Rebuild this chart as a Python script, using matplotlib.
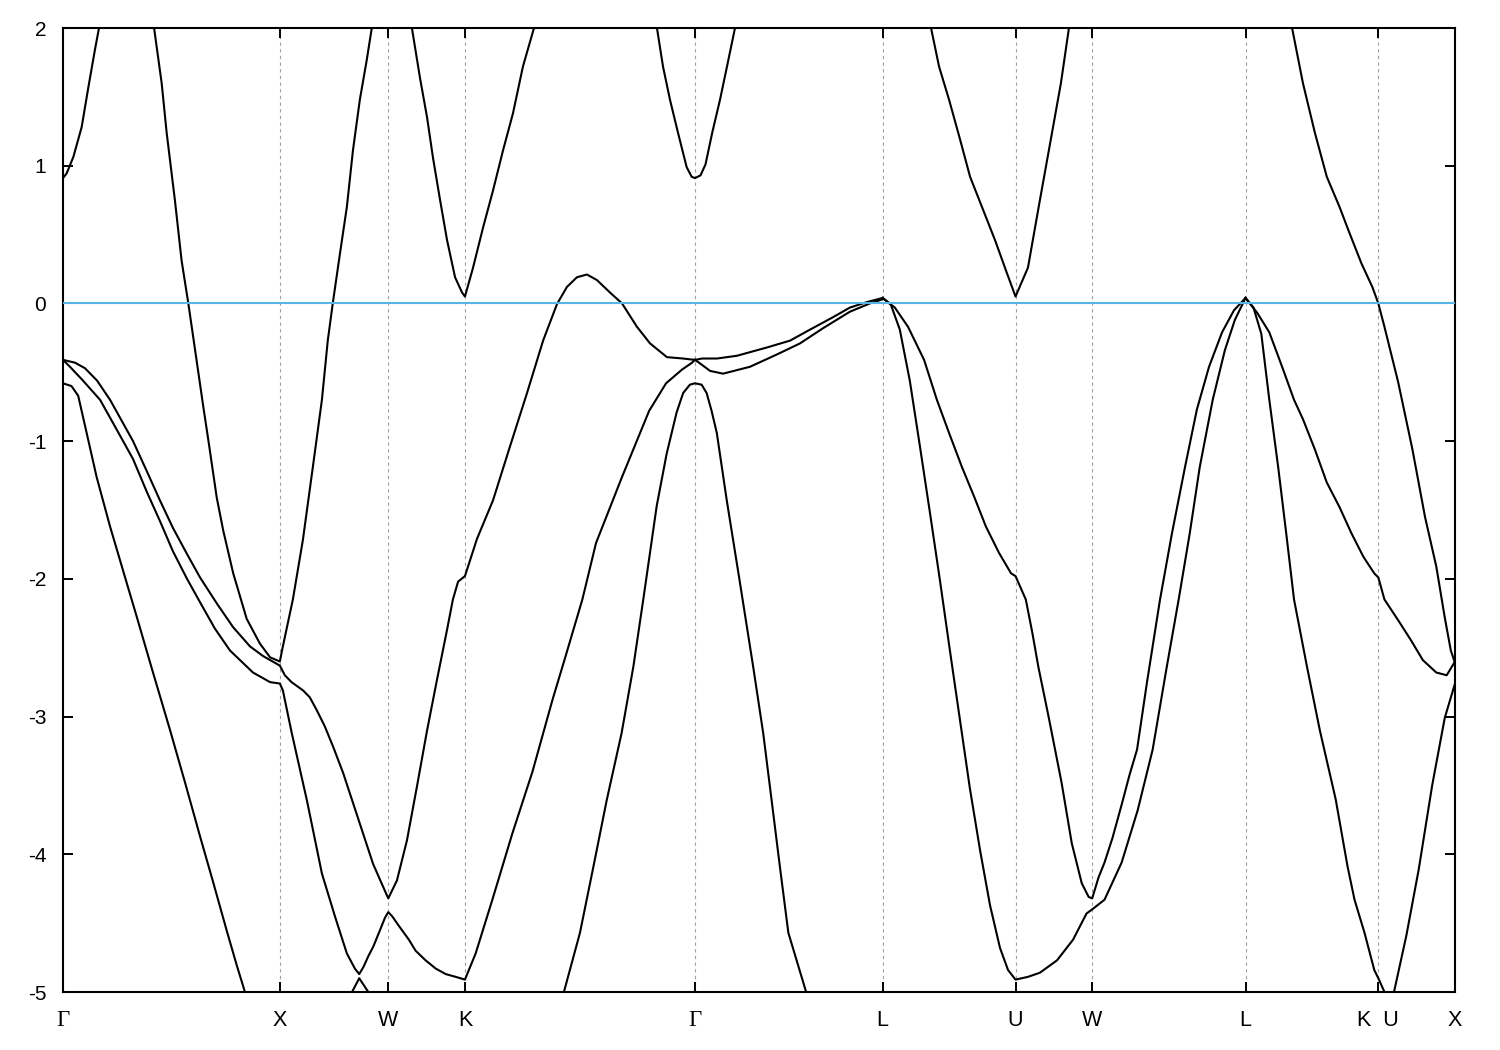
import matplotlib.pyplot as plt
import matplotlib as mpl

mpl.rcParams['axes.unicode_minus'] = False
mpl.rcParams['font.family'] = ['Liberation Sans', 'DejaVu Sans']

# high-symmetry points along the fcc path (units of 2pi/a)
tick_pos = [0.0, 1.0, 1.5, 1.8536, 2.9142, 3.7802, 4.3926, 4.7462, 5.4533, 6.0657, 6.4193]
tick_lab = ['Γ', 'X', 'W', 'K', 'Γ', 'L', 'U', 'W', 'L', 'K  U', 'X']

# --- bands (k, E in eV) ---
# conduction band rising from Gamma (left edge)
c_gamma0_k = [0.0, 0.017, 0.048, 0.086, 0.117, 0.147, 0.166, 0.18]
c_gamma0_e = [0.91, 0.945, 1.065, 1.28, 1.57, 1.84, 2.0, 2.12]

# steep band coming down to X and going back up
c_x_k = [0.401, 0.420, 0.455, 0.478, 0.516, 0.547, 0.578, 0.601, 0.624, 0.647, 0.670,
         0.709, 0.739, 0.785, 0.847, 0.908, 0.955, 1.0, 1.014, 1.060, 1.106, 1.152,
         1.194, 1.221, 1.244, 1.277, 1.309, 1.337, 1.369, 1.401, 1.424, 1.443]
c_x_e = [2.17, 2.0, 1.60, 1.24, 0.75, 0.31, 0.0, -0.25, -0.50, -0.75, -0.99,
         -1.41, -1.65, -1.96, -2.29, -2.47, -2.57, -2.60, -2.49, -2.15, -1.72, -1.19,
         -0.70, -0.27, 0.0, 0.36, 0.70, 1.11, 1.48, 1.77, 2.0, 2.2]

# upper valence pair branch: G -> X -> W -> K -> hump -> G
v_up_k = [0.0, 0.055, 0.101, 0.157, 0.217, 0.263, 0.323, 0.387, 0.447, 0.507, 0.572,
          0.632, 0.710, 0.784, 0.862, 0.922, 1.0, 1.023, 1.054, 1.107, 1.138, 1.169,
          1.207, 1.246, 1.292, 1.338, 1.384, 1.430, 1.469, 1.5, 1.540, 1.586, 1.632,
          1.679, 1.725, 1.771, 1.798, 1.822, 1.8536, 1.909, 1.983, 2.061, 2.140, 2.214,
          2.278, 2.324, 2.370, 2.416, 2.462, 2.522, 2.578, 2.647, 2.707, 2.785, 2.859, 2.9142]
v_up_e = [-0.41, -0.43, -0.47, -0.56, -0.70, -0.83, -1.00, -1.22, -1.43, -1.63, -1.82,
          -1.99, -2.18, -2.35, -2.49, -2.56, -2.63, -2.70, -2.75, -2.81, -2.86, -2.95,
          -3.07, -3.22, -3.41, -3.63, -3.85, -4.07, -4.21, -4.32, -4.19, -3.90, -3.51,
          -3.10, -2.73, -2.37, -2.15, -2.02, -1.98, -1.71, -1.43, -1.04, -0.65, -0.27,
          -0.005, 0.12, 0.19, 0.21, 0.17, 0.08, 0.0, -0.17, -0.29, -0.39, -0.40, -0.41]

# lower valence pair branch: G -> X -> W -> K -> G
v_lo_k = [0.0, 0.032, 0.092, 0.171, 0.249, 0.323, 0.387, 0.447, 0.507, 0.572, 0.632,
          0.700, 0.770, 0.876, 0.955, 1.0, 1.014, 1.055, 1.125, 1.194, 1.254, 1.309, 1.346,
          1.366, 1.385, 1.408, 1.431, 1.462, 1.485, 1.5, 1.518, 1.549, 1.595, 1.626,
          1.672, 1.719, 1.765, 1.811, 1.8536, 1.903, 1.980, 2.072, 2.165, 2.257, 2.318,
          2.395, 2.458, 2.578, 2.703, 2.781, 2.855, 2.901, 2.9142]
v_lo_e = [-0.41, -0.46, -0.56, -0.70, -0.92, -1.13, -1.37, -1.58, -1.80, -2.00, -2.17,
          -2.36, -2.52, -2.68, -2.75, -2.76, -2.81, -3.12, -3.61, -4.14, -4.45, -4.72, -4.83,
          -4.87, -4.82, -4.74, -4.67, -4.55, -4.46, -4.42, -4.45, -4.52, -4.62, -4.70,
          -4.77, -4.83, -4.87, -4.89, -4.91, -4.72, -4.33, -3.85, -3.40, -2.88, -2.56,
          -2.15, -1.74, -1.26, -0.78, -0.58, -0.48, -0.43, -0.41]

# split-off like band falling from Gamma
v_so_k = [0.0, 0.039, 0.070, 0.109, 0.155, 0.217, 0.277, 0.341, 0.415, 0.494, 0.563,
          0.632, 0.692, 0.756, 0.802, 0.839, 0.862]
v_so_e = [-0.58, -0.60, -0.67, -0.94, -1.26, -1.62, -1.94, -2.28, -2.68, -3.10, -3.48,
          -3.87, -4.20, -4.56, -4.81, -5.0, -5.13]

# little tip poking up from below between X and W
v_tip_k = [1.320, 1.333, 1.366, 1.408, 1.420]
v_tip_e = [-5.07, -5.0, -4.90, -5.0, -5.07]

# conduction minimum at K
c_k_k = [1.59, 1.609, 1.646, 1.679, 1.706, 1.739, 1.771, 1.808, 1.840, 1.8536,
         1.891, 1.937, 1.983, 2.029, 2.075, 2.121, 2.172, 2.19]
c_k_e = [2.15, 2.0, 1.64, 1.35, 1.06, 0.75, 0.46, 0.19, 0.08, 0.05,
         0.26, 0.55, 0.82, 1.11, 1.38, 1.72, 2.0, 2.1]

# conduction minimum at Gamma (middle)
c_gamma_k = [2.73, 2.739, 2.767, 2.799, 2.836, 2.876, 2.899, 2.9142, 2.940, 2.963,
             2.994, 3.030, 3.062, 3.099, 3.11]
c_gamma_e = [2.07, 2.0, 1.72, 1.48, 1.24, 0.99, 0.92, 0.91, 0.93, 1.01,
             1.24, 1.48, 1.72, 2.0, 2.08]

# valence band peaking at Gamma (-0.58)
v_gpk_k = [2.297, 2.310, 2.384, 2.446, 2.507, 2.576, 2.630, 2.676, 2.738, 2.784, 2.830,
           2.860, 2.891, 2.9142, 2.945, 2.968, 2.991, 3.015, 3.061, 3.122, 3.183, 3.229,
           3.268, 3.306, 3.345, 3.427, 3.436]
v_gpk_e = [-5.07, -5.0, -4.57, -4.09, -3.61, -3.12, -2.64, -2.15, -1.47, -1.09, -0.79,
           -0.65, -0.59, -0.58, -0.59, -0.65, -0.78, -0.94, -1.43, -2.03, -2.64, -3.12,
           -3.61, -4.09, -4.57, -5.0, -5.07]

# G -> L, flat and dipping branches
v_gl1_k = [2.9142, 2.947, 3.016, 3.108, 3.246, 3.353, 3.445, 3.551, 3.629, 3.708, 3.7802]
v_gl1_e = [-0.41, -0.40, -0.40, -0.38, -0.32, -0.27, -0.19, -0.10, -0.03, 0.01, 0.04]
v_gl2_k = [2.9142, 2.933, 2.984, 3.044, 3.168, 3.293, 3.399, 3.505, 3.629, 3.721, 3.7802]
v_gl2_e = [-0.41, -0.43, -0.49, -0.51, -0.46, -0.37, -0.29, -0.18, -0.06, 0.00, 0.03]

# L -> U -> W -> L, steep branch
v_lw1_k = [3.7802, 3.818, 3.859, 3.905, 3.952, 3.998, 4.044, 4.090, 4.136, 4.182, 4.229,
           4.275, 4.321, 4.358, 4.3926, 4.450, 4.505, 4.584, 4.658, 4.72, 4.7462, 4.803,
           4.882, 4.956, 5.025, 5.090, 5.145, 5.196, 5.242, 5.302, 5.358, 5.404, 5.4533]
v_lw1_e = [0.04, -0.01, -0.19, -0.56, -1.04, -1.52, -2.01, -2.52, -3.02, -3.52, -3.97,
           -4.37, -4.68, -4.84, -4.91, -4.89, -4.86, -4.77, -4.62, -4.43, -4.40, -4.33,
           -4.06, -3.68, -3.24, -2.64, -2.15, -1.67, -1.19, -0.70, -0.34, -0.12, 0.04]

# L -> U -> W -> L, soft branch (kink at U)
v_lw2_k = [3.7802, 3.836, 3.897, 3.971, 4.030, 4.086, 4.146, 4.201, 4.256, 4.316, 4.372,
           4.3926, 4.440, 4.470, 4.498, 4.545, 4.605, 4.652, 4.698, 4.730, 4.7462, 4.775,
           4.803, 4.840, 4.882, 4.919, 4.953, 4.999, 5.059, 5.114, 5.174, 5.229, 5.285,
           5.345, 5.400, 5.4533]
v_lw2_e = [0.04, -0.03, -0.17, -0.41, -0.70, -0.94, -1.19, -1.40, -1.62, -1.81, -1.96,
           -1.98, -2.15, -2.39, -2.64, -3.00, -3.48, -3.92, -4.21, -4.31, -4.32, -4.17,
           -4.06, -3.88, -3.64, -3.42, -3.24, -2.75, -2.15, -1.67, -1.19, -0.77, -0.46,
           -0.21, -0.05, 0.04]

# conduction minimum at U
c_u_k = [3.99, 4.003, 4.040, 4.086, 4.137, 4.183, 4.238, 4.298, 4.353, 4.3926,
         4.450, 4.505, 4.561, 4.602, 4.639, 4.65]
c_u_e = [2.08, 2.0, 1.72, 1.48, 1.19, 0.92, 0.70, 0.46, 0.22, 0.05,
         0.26, 0.75, 1.24, 1.60, 2.0, 2.08]

# L -> K|U -> X, steep branch (dips below -5) and soft branch
v_lx1_k = [5.4533, 5.490, 5.526, 5.563, 5.604, 5.641, 5.677, 5.737, 5.796, 5.869, 5.924,
           5.956, 6.002, 6.047, 6.0657, 6.094, 6.114, 6.138, 6.195, 6.252, 6.314, 6.372, 6.4193]
v_lx1_e = [0.04, -0.03, -0.22, -0.70, -1.19, -1.67, -2.15, -2.64, -3.10, -3.60, -4.09,
           -4.33, -4.57, -4.84, -4.90, -5.0, -5.06, -5.0, -4.59, -4.11, -3.50, -3.01, -2.76]
v_lx2_k = [5.4533, 5.508, 5.563, 5.622, 5.677, 5.718, 5.773, 5.828, 5.887, 5.942, 5.997,
           6.047, 6.0657, 6.094, 6.157, 6.214, 6.271, 6.333, 6.381, 6.4193]
v_lx2_e = [0.04, -0.07, -0.21, -0.46, -0.70, -0.84, -1.06, -1.30, -1.48, -1.67, -1.84,
           -1.96, -1.99, -2.15, -2.30, -2.44, -2.59, -2.68, -2.70, -2.60]

# conduction band falling through E_F towards X
c_kx_k = [5.650, 5.668, 5.718, 5.773, 5.828, 5.887, 5.933, 5.988, 6.038, 6.0657,
          6.094, 6.157, 6.223, 6.281, 6.333, 6.372, 6.400, 6.4193]
c_kx_e = [2.15, 2.0, 1.60, 1.24, 0.92, 0.70, 0.51, 0.29, 0.12, 0.0,
          -0.17, -0.57, -1.06, -1.55, -1.91, -2.28, -2.52, -2.61]

bands = [
    (c_gamma0_k, c_gamma0_e), (c_x_k, c_x_e), (v_up_k, v_up_e), (v_lo_k, v_lo_e),
    (v_so_k, v_so_e), (v_tip_k, v_tip_e), (c_k_k, c_k_e), (c_gamma_k, c_gamma_e),
    (v_gpk_k, v_gpk_e), (v_gl1_k, v_gl1_e), (v_gl2_k, v_gl2_e), (v_lw1_k, v_lw1_e),
    (v_lw2_k, v_lw2_e), (c_u_k, c_u_e), (v_lx1_k, v_lx1_e), (v_lx2_k, v_lx2_e),
    (c_kx_k, c_kx_e),
]

fig = plt.figure(figsize=(15, 10.5), dpi=100)
ax = fig.add_axes([63 / 1500, 58 / 1050, (1455 - 63) / 1500, (992 - 28) / 1050])

# vertical guides at the interior high-symmetry points
for x in tick_pos[1:-1]:
    ax.axvline(x, color='#a0a0a0', lw=0.8, ls=(0, (3, 3)), zorder=1)

for k, e in bands:
    ax.plot(k, e, color='black', lw=1.5, solid_joinstyle='round', zorder=2)

ax.axhline(0.0, color='#56b4e9', lw=1.5, zorder=3)

ax.set_xlim(tick_pos[0], tick_pos[-1])
ax.set_ylim(-5, 2)
ax.set_xticks(tick_pos)
ax.set_xticklabels(tick_lab)
ax.set_yticks(range(-5, 3))
ax.set_yticklabels([str(v) for v in range(-5, 3)])

ax.tick_params(direction='in', length=7, width=1.4, top=True, right=True,
               colors='black')
ax.tick_params(axis='x', pad=13, labelsize=15.5)
ax.tick_params(axis='y', pad=12, labelsize=15)
for lab in ax.get_xticklabels():
    if lab.get_text() == 'Γ':
        lab.set_fontfamily(['Liberation Serif', 'DejaVu Serif'])
        lab.set_fontsize(16.5)

for s in ax.spines.values():
    s.set_linewidth(1.5)

fig.savefig('out.png', dpi=100)
